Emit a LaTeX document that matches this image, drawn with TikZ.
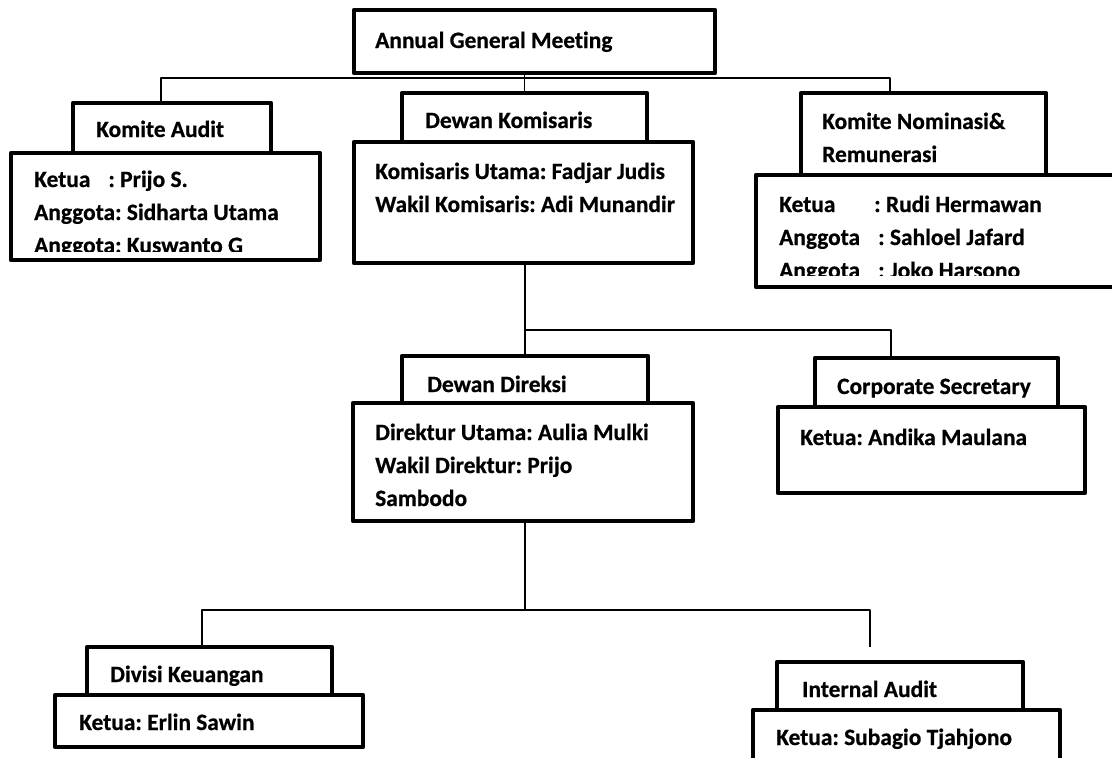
\documentclass[tikz,border=0pt]{standalone}
\usepackage{fontspec}
\setmainfont{Carlito}[BoldFont={Carlito Bold}, BoldFeatures={FakeBold=0.6},
  Ligatures={NoCommon}]
\frenchspacing
\usetikzlibrary{positioning}

\begin{document}
\begin{tikzpicture}[x=1pt, y=-1pt, line join=round,
      box/.style={draw, line width=4.5pt, fill=white, inner sep=0pt},
      sz/.style 2 args={minimum width=#1pt, minimum height=#2pt},
      txt/.style={anchor=base west, inner sep=0pt, align=left,
                  font=\fontsize{23.4}{33}\selectfont\bfseries},
      link/.style={line width=1.4pt}]

    \useasboundingbox (0,0) rectangle (1112,758);

    % ---- Top: AGM ----
    \node[box, sz={361}{63}] (agm) at (534.5, 41.5) {};
    \node[txt] (agmTxt) at (375, 48) {Annual General Meeting};

    % ---- Komite Audit ----
    % (multi-line texts sit on the baseline of their last line)
    \node[box, sz={309}{107}] (kaBody) at (165.5, 206.5) {};
    \node[box, sz={198}{50}]  (kaHead) at (172, 128) {};
    \node[txt] (kaHeadTxt) at (96, 137) {Komite Audit};
    \begin{scope}
      \clip (kaBody.north west) rectangle ([yshift=11pt]kaBody.south east);
      \node[txt] (kaTxt) at (34, 253) {Ketua\hspace{18pt}: Prijo S.\\
        Anggota: Sidharta Utama\\Anggota: Kuswanto G};
    \end{scope}

    % ---- Dewan Komisaris ----
    \node[box, sz={339}{121}] (dkBody) at (523.5, 202.5) {};
    \node[box, sz={245}{49}]  (dkHead) at (524.5, 117.5) {};
    \node[txt] (dkHeadTxt) at (425, 128) {Dewan Komisaris};
    \node[txt] (dkTxt) at (375, 212) {Komisaris Utama: Fadjar Judis\\
      Wakil Komisaris: Adi Munandir};

    % ---- Komite Nominasi & Remunerasi ----
    \node[box, sz={359}{112}] (knBody) at (935.5, 231) {};
    \node[box, sz={245}{82}]  (knHead) at (923.5, 134) {};
    \node[txt] (knHeadTxt) at (822, 162) {Komite Nominasi\&\\Remunerasi};
    \begin{scope}
      \clip (knBody.north west) rectangle ([yshift=14pt]knBody.south east);
      \node[txt] (knTxt) at (779, 278) {\makebox[95pt][l]{Ketua}: Rudi Hermawan\\
        \makebox[99pt][l]{Anggota}: Sahloel Jafard\\
        \makebox[99pt][l]{Anggota}: Joko Harsono};
    \end{scope}

    % ---- Dewan Direksi ----
    \node[box, sz={340}{118}] (ddBody) at (523, 462) {};
    \node[box, sz={246}{47}]  (ddHead) at (525, 379.5) {};
    \node[txt] (ddHeadTxt) at (427, 392) {Dewan Direksi};
    \node[txt] (ddTxt) at (375, 506) {Direktur Utama: Aulia Mulki\\
      Wakil Direktur: Prijo\\Sambodo};

    % ---- Corporate Secretary ----
    \node[box, sz={307}{86}]  (csBody) at (931.5, 450) {};
    \node[box, sz={243}{49}]  (csHead) at (936.5, 382.5) {};
    \node[txt] (csHeadTxt) at (837, 394) {Corporate Secretary};
    \node[txt] (csTxt) at (800, 445) {Ketua: Andika Maulana};

    % ---- Divisi Keuangan ----
    \node[box, sz={308}{52}]  (dvBody) at (209, 721) {};
    \node[box, sz={245}{48}]  (dvHead) at (209.5, 671) {};
    \node[txt] (dvHeadTxt) at (110, 682) {Divisi Keuangan};
    \node[txt] (dvTxt) at (79, 730) {Ketua: Erlin Sawin};

    % ---- Internal Audit ----
    \node[box, sz={307}{65}]  (iaBody) at (906.5, 742.5) {};
    \node[box, sz={246}{48}]  (iaHead) at (900, 686) {};
    \node[txt] (iaHeadTxt) at (802, 697) {Internal Audit};
    \node[txt] (iaTxt) at (776, 745) {Ketua: Subagio Tjahjono};

    % ---- Lines: AGM level ----
    \coordinate (busL) at (161, 78);
    \coordinate (busR) at (890, 78);
    \draw[link] (dkHead.north |- agm.south) -- (dkHead.north);
    \draw[link] (kaHead.north -| busL) -- (busL) -- (busR) -- (knHead.north -| busR);

    % ---- Lines: Komisaris to Direksi / Secretary ----
    \coordinate (midR) at (891, 330);
    \draw[link] (dkBody.south -| ddHead.north) -- (ddHead.north);
    \draw[link] (ddHead.north |- midR) -- (midR) -- (csHead.north -| midR);

    % ---- Lines: Direksi to divisions ----
    \coordinate (lowL) at (202, 610);
    \coordinate (lowR) at (870, 610);
    \coordinate (iaDrop) at (870, 647);
    \draw[link] (ddBody.south -| ddHead.north) -- (ddHead.north |- lowL);
    \draw[link] (dvHead.north -| lowL) -- (lowL) -- (lowR) -- (iaDrop);

\end{tikzpicture}
\end{document}
